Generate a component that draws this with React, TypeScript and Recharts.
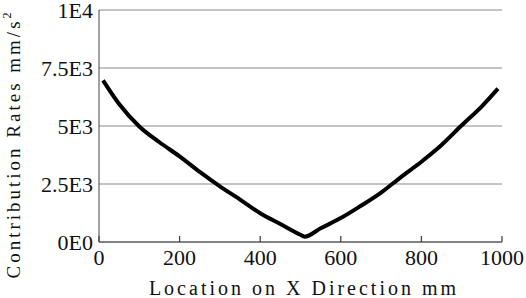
import React from 'react'
import { LineChart, Line, XAxis, YAxis, CartesianGrid } from 'recharts'

const positions = [10, 50, 100, 150, 200, 250, 300, 350, 400, 450, 500, 510, 550, 600, 650, 700, 750, 800, 850, 900, 950, 990]
const rates = [6970, 5950, 4980, 4300, 3690, 3020, 2400, 1830, 1240, 775, 310, 230, 590, 1030, 1560, 2130, 2810, 3460, 4180, 5030, 5850, 6610]

const xTicks = [0, 200, 400, 600, 800, 1000]
const yTicks = [0, 2500, 5000, 7500, 10000]
const yTickLabels = ['0E0', '2.5E3', '5E3', '7.5E3', '1E4']

const data = positions.map((x, i) => ({ x, rate: rates[i] }))

const font = 'Liberation Serif'
const frame = '#444'

// bottom tick: inward tick mark plus the label below the axis
const BottomTick = (props: any) => {
  const { x, y, payload } = props
  const axisY = y - 7
  return (
    <g>
      <line x1={x} x2={x} y1={axisY} y2={axisY - 6} stroke={frame} strokeWidth={1.3} />
      <text x={x} y={y} dy={16} textAnchor="middle" fontFamily={font} fontSize={22} fill="#111">
        {payload.value}
      </text>
    </g>
  )
}

// top tick: inward tick mark only
const TopTick = (props: any) => {
  const { x, y } = props
  return <line x1={x} x2={x} y1={y} y2={y + 6} stroke={frame} strokeWidth={1.3} />
}

const LeftTick = (props: any) => {
  const { x, y, payload } = props
  return (
    <text x={x} y={y} dy={8} textAnchor="end" fontFamily={font} fontSize={22} fill="#111">
      {yTickLabels[yTicks.indexOf(payload.value)]}
    </text>
  )
}

export default function App() {
  return (
    <div style={{ position: 'absolute', left: 0, top: 0, background: '#fff' }}>
      <LineChart width={526} height={298} data={data} margin={{ top: 10, right: 24, left: 0, bottom: 0 }}>
        <CartesianGrid vertical={false} stroke="#888" strokeWidth={1} />
        <XAxis
          dataKey="x"
          type="number"
          domain={[0, 1000]}
          ticks={xTicks}
          height={56}
          stroke={frame}
          tickLine={false}
          tickSize={0}
          tickMargin={7}
          tick={BottomTick}
        />
        <XAxis
          xAxisId="top"
          dataKey="x"
          type="number"
          orientation="top"
          mirror
          height={0}
          domain={[0, 1000]}
          ticks={xTicks}
          stroke={frame}
          tickLine={false}
          tickSize={0}
          tickMargin={0}
          tick={TopTick}
        />
        <YAxis
          type="number"
          domain={[0, 10000]}
          ticks={yTicks}
          width={99}
          stroke={frame}
          tickLine={false}
          tickSize={0}
          tickMargin={6}
          tick={LeftTick}
        />
        <YAxis
          yAxisId="right"
          orientation="right"
          mirror
          width={0}
          domain={[0, 10000]}
          stroke={frame}
          tickLine={false}
          tick={false}
        />
        <Line
          type="monotone"
          dataKey="rate"
          stroke="#000"
          strokeWidth={4}
          dot={false}
          isAnimationActive={false}
        />
        <text x={304} y={295} textAnchor="middle" fontFamily={font} fontSize={20} fill="#111" letterSpacing={3}>
          Location on X Direction mm
        </text>
        <text x={20} y={144} transform="rotate(-90 20 144)" textAnchor="middle" fontFamily={font} fontSize={19} fill="#111" letterSpacing={3}>
          Contribution Rates mm/s<tspan dy={-9} fontSize={12}>2</tspan>
        </text>
      </LineChart>
    </div>
  )
}
